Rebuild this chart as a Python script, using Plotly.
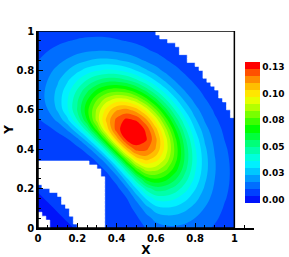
import plotly.graph_objects as go

# ---------------- data ----------------
x_grid = [0.0, 0.05, 0.1, 0.15, 0.2, 0.25, 0.3, 0.35, 0.4, 0.45, 0.5,
          0.55, 0.6, 0.65, 0.7, 0.75, 0.8, 0.85, 0.9, 0.95, 1.0]
y_grid = [0.0, 0.05, 0.1, 0.15, 0.2, 0.25, 0.3, 0.35, 0.4, 0.45, 0.5,
          0.55, 0.6, 0.65, 0.7, 0.75, 0.8, 0.85, 0.9, 0.95, 1.0]
# field value x 1e-4, one row per y_grid value (bottom to top)
field_e4 = [
    [60,60,0,0,60,60,60,60,60,63,76,105,138,155,157,150,134,115,97,82,72],
    [60,0,0,60,60,60,60,60,61,67,91,141,192,213,211,195,169,139,111,90,75],
    [0,0,60,60,60,60,60,60,62,76,123,204,274,294,283,253,211,166,127,98,80],
    [0,60,60,60,60,60,60,61,67,99,186,308,390,400,373,322,259,196,144,107,84],
    [60,60,60,60,60,60,60,63,83,155,302,461,538,525,475,397,308,225,159,114,87],
    [60,60,60,60,60,60,62,75,130,274,488,659,704,661,578,467,351,248,170,119,88],
    [60,60,60,60,60,62,72,118,249,484,736,873,866,789,668,522,380,262,175,120,88],
    [60,60,60,61,63,75,119,240,474,771,995,1059,1003,889,728,552,391,262,173,117,86],
    [60,61,62,66,82,130,250,476,782,1058,1195,1183,1095,939,745,549,379,250,163,111,83],
    [62,66,74,97,152,271,483,773,1062,1246,1290,1244,1116,928,716,514,347,226,148,102,78],
    [73,86,116,177,291,478,730,996,1199,1294,1302,1220,1061,857,643,452,301,195,129,92,74],
    [96,128,187,286,439,640,860,1054,1185,1249,1224,1113,940,738,541,374,247,162,111,83,70],
    [121,169,246,359,507,678,847,993,1093,1119,1066,943,775,594,428,293,195,132,95,76,66],
    [135,186,262,365,491,631,767,875,933,928,859,741,596,449,320,220,150,107,82,70,64],
    [136,184,251,338,441,548,644,712,737,713,644,543,429,321,229,161,116,88,73,65,62],
    [131,171,225,292,367,440,501,537,541,510,451,374,294,220,161,119,92,75,67,63,61],
    [118,149,189,235,284,330,363,379,372,344,300,247,196,151,116,92,76,68,63,61,61],
    [103,124,150,179,209,234,250,254,244,223,194,162,132,107,88,76,68,64,62,61,60],
    [89,102,117,133,149,161,168,167,159,146,128,111,95,82,73,67,63,62,61,60,60],
    [77,84,92,101,108,113,115,114,108,101,92,83,75,70,65,63,61,61,60,60,60],
    [69,73,76,80,83,85,86,84,82,78,73,70,66,64,62,61,61,60,60,60,60],
]
# blanked (no data) cells, rows 0.02 high
blank_row_h = 0.02
outer_rows = list(range(28, 50))
outer_blank_from_x = [0.98,0.98,0.96,0.96,0.94,0.92,0.92,0.90,0.88,0.86,0.84,
                      0.84,0.82,0.80,0.76,0.76,0.72,0.72,0.70,0.66,0.62,0.60]
hole_blank_from_x = [0.20,0.18,0.18,0.16,0.16,0.14,0.12,0.12,0.10,0.06,0.02,
                     0.0,0.0,0.0,0.0,0.0,0.0]
hole_blank_to_x = [0.34,0.34,0.34,0.34,0.34,0.34,0.34,0.34,0.34,0.34,0.34,
                   0.34,0.34,0.32,0.32,0.30,0.26]
corner_blank_to_x = [0.06, 0.06, 0.04, 0.02]

# colour legend
legend_min, legend_max, n_bands = -0.003, 0.13, 20
legend_tickvals = [0, 0.025, 0.05, 0.075, 0.1, 0.125]
legend_ticktext = ["0.00", "0.03", "0.05", "0.08", "0.10", "0.13"]
band_colors = ["rgb(0,20,250)", "rgb(0,64,255)", "rgb(0,110,255)", "rgb(0,155,255)",
               "rgb(0,200,255)", "rgb(0,240,255)", "rgb(0,255,220)", "rgb(0,255,170)",
               "rgb(0,255,120)", "rgb(0,255,60)", "rgb(0,255,0)", "rgb(60,255,0)",
               "rgb(120,255,0)", "rgb(180,255,0)", "rgb(230,255,0)", "rgb(255,230,0)",
               "rgb(255,190,0)", "rgb(255,140,0)", "rgb(255,80,0)", "rgb(255,0,0)"]

# ---------------- build figure ----------------
legend_step = (legend_max - legend_min) / n_bands
Z = [[v / 10000.0 for v in row] for row in field_e4]

rects = []
for k, x0 in zip(outer_rows, outer_blank_from_x):
    rects.append((x0, 1.0, k * blank_row_h, (k + 1) * blank_row_h))
for k, (a, b) in enumerate(zip(hole_blank_from_x, hole_blank_to_x)):
    rects.append((a, b, k * blank_row_h, (k + 1) * blank_row_h))
for k, b in enumerate(corner_blank_to_x):
    rects.append((0.0, b, k * blank_row_h, (k + 1) * blank_row_h))
mx, my = [], []
for x0, x1, y0, y1 in rects:
    mx += [x0, x1, x1, x0, x0, None]
    my += [y0, y0, y1, y1, y0, None]

cs_contour = [[k / (n_bands - 1), c] for k, c in enumerate(band_colors)]
cs_steps = []
for k, c in enumerate(band_colors):
    cs_steps += [[k / n_bands, c], [(k + 1) / n_bands, c]]

FAM = "DejaVu Sans, Liberation Sans, Arial"
font = dict(family=FAM, size=10, color="black", weight="bold")
L, T, W, H = 38, 31, 216, 197
fig = go.Figure()
fig.add_trace(go.Contour(
    x=x_grid, y=y_grid, z=Z, colorscale=cs_contour, showscale=False,
    contours=dict(start=legend_min + legend_step,
                  end=legend_min + (n_bands - 1) * legend_step,
                  size=legend_step, coloring="fill", showlines=False),
    line=dict(width=0), hoverinfo="skip"))
fig.add_trace(go.Scatter(x=mx, y=my, mode="lines", fill="toself", fillcolor="white",
                         line=dict(color="white", width=0.6), hoverinfo="skip",
                         showlegend=False))
# colour legend (carries only the scale, no visible points)
fig.add_trace(go.Scatter(
    x=[None, None], y=[None, None], mode="markers", hoverinfo="skip", showlegend=False,
    marker=dict(color=[legend_min, legend_max], cmin=legend_min, cmax=legend_max,
                colorscale=cs_steps, showscale=True,
                colorbar=dict(x=(245 - L) / W, xanchor="left", y=(T + H - 132.5) / H,
                              yanchor="middle", len=141, lenmode="pixels", thickness=15,
                              outlinewidth=0, tickmode="array",
                              tickvals=legend_tickvals, ticktext=legend_ticktext,
                              tickfont=dict(family=FAM, size=9, color="black", weight="bold"),
                              ticks="", ypad=0, xpad=0))))
fig.add_shape(type="rect", x0=0, x1=1, y0=0, y1=1, xref="x", yref="y",
              line=dict(color="black", width=1.5), layer="above")
fig.update_layout(width=289, height=257,
                  margin=dict(l=L, r=289 - L - W, t=T, b=257 - T - H, autoexpand=False),
                  plot_bgcolor="white", paper_bgcolor="white", font=font, showlegend=False)
axis_common = dict(dtick=0.2, tick0=0, ticks="inside", ticklen=5, tickcolor="black",
                   minor=dict(dtick=0.05, ticks="inside", ticklen=3, tickcolor="black"),
                   showline=True, linecolor="black", linewidth=1.5, showgrid=False,
                   zeroline=False, tickfont=font)
fig.update_xaxes(range=[0, 1.1], title=dict(text="X", font=dict(size=12), standoff=2),
                 **axis_common)
fig.update_yaxes(range=[0, 1], title=dict(text="Y", font=dict(size=12), standoff=0),
                 **axis_common)
fig.write_html("out.html", config={"displayModeBar": False},
               post_script="document.body.style.margin='0px';document.body.style.overflow='hidden';")
